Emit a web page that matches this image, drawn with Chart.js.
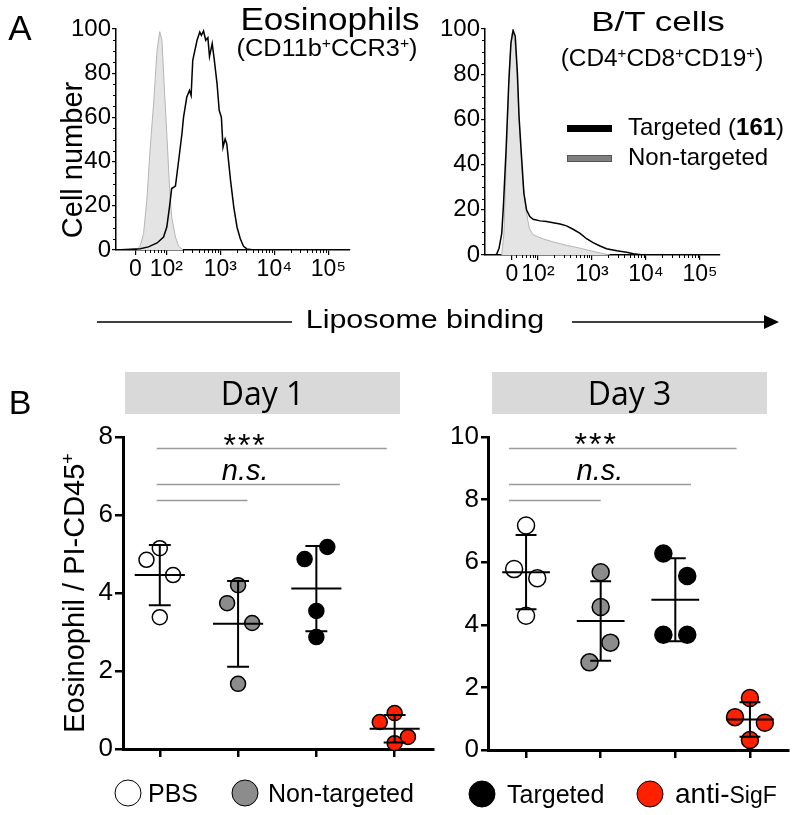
<!DOCTYPE html>
<html>
<head>
<meta charset="utf-8">
<title>Liposome binding</title>
<script src="https://cdn.jsdelivr.net/npm/chart.js@4.4.1/dist/chart.umd.min.js"></script>
<style>
  body { margin: 0; background: #fff; }
  #figura { position: relative; width: 800px; height: 815px; overflow: hidden; font-family: "Liberation Sans", Arial, sans-serif; color: #000; }
  .strato { position: absolute; left: 0; top: 0; width: 800px; height: 815px; }
  .testo { position: absolute; white-space: nowrap; line-height: 1; transform: translate(-50%, -50%); }
  .sup { font-size: 0.62em; position: relative; top: -0.55em; }
  .giorno { position: absolute; top: 372px; height: 42px; width: 275px; background: #d9d9d9; font-family: "Open Sans", sans-serif; font-size: 32px; line-height: 42px; text-align: center; }
  .pallino { position: absolute; width: 25px; height: 25px; border: 1.5px solid #000; border-radius: 50%; transform: translate(-50%, -50%); }
  .voce { position: absolute; font-size: 25px; line-height: 1; transform: translateY(-50%); white-space: nowrap; }
</style>
</head>
<body>
<div id="figura">
  <div class="strato"><canvas id="istoEos"></canvas></div>
  <div class="strato"><canvas id="istoBT"></canvas></div>
  <div class="strato"><canvas id="giorno1"></canvas></div>
  <div class="strato"><canvas id="giorno3"></canvas></div>

  <!-- pannello A -->
  <div class="testo" style="left:20px;top:27px;font-size:35px">A</div>
  <div class="testo" style="left:330px;top:19px;font-size:31px;transform:translate(-50%,-50%) scaleX(1.13)">Eosinophils</div>
  <div class="testo" style="left:327px;top:48px;font-size:23px;transform:translate(-50%,-50%) scaleX(1.1)">(CD11b<span class="sup">+</span>CCR3<span class="sup">+</span>)</div>
  <div class="testo" style="left:658px;top:22px;font-size:28px;transform:translate(-50%,-50%) scaleX(1.25)">B/T cells</div>
  <div class="testo" style="left:662px;top:58px;font-size:23px;transform:translate(-50%,-50%) scaleX(1.06)">(CD4<span class="sup">+</span>CD8<span class="sup">+</span>CD19<span class="sup">+</span>)</div>
  <div class="testo" style="left:72px;top:160px;font-size:29px;transform:translate(-50%,-50%) rotate(-90deg)">Cell number</div>

  <div style="position:absolute;left:567px;top:124.5px;width:45px;height:7px;background:#000"></div>
  <div style="position:absolute;left:567px;top:155px;width:43px;height:5px;background:#808080;border:1px solid #555"></div>
  <div class="voce" style="left:628px;top:127px;font-size:24px">Targeted (<b>161</b>)</div>
  <div class="voce" style="left:628px;top:157px;font-size:24px">Non-targeted</div>

  <svg style="position:absolute;left:0;top:300px" width="800" height="40">
    <line x1="97" y1="22" x2="292" y2="22" stroke="#000" stroke-width="1.6"/>
    <line x1="572" y1="22" x2="768" y2="22" stroke="#000" stroke-width="1.6"/>
    <polygon points="764,15 779,22 764,29" fill="#000"/>
  </svg>
  <div class="testo" style="left:425px;top:319px;font-size:26px;transform:translate(-50%,-50%) scaleX(1.17)">Liposome binding</div>

  <!-- pannello B -->
  <div class="testo" style="left:20px;top:402px;font-size:34px">B</div>
  <div class="giorno" style="left:125px">Day 1</div>
  <div class="giorno" style="left:492px">Day 3</div>
  <div class="testo" style="left:74px;top:593px;font-size:29px;transform:translate(-50%,-50%) rotate(-90deg)">Eosinophil / PI-CD45<span class="sup">+</span></div>

  <div class="pallino" style="left:128px;top:793px;background:#ffffff"></div>
  <div class="voce" style="left:148px;top:793px">PBS</div>
  <div class="pallino" style="left:245px;top:793px;background:#8c8c8c"></div>
  <div class="voce" style="left:268px;top:793px">Non-targeted</div>
  <div class="pallino" style="left:482px;top:794px;background:#000000"></div>
  <div class="voce" style="left:507px;top:794px">Targeted</div>
  <div class="pallino" style="left:650px;top:794px;background:#ff2000"></div>
  <div class="voce" style="left:675px;top:794px"><span style="font-size:28px">anti-</span><span style="font-size:23px">SigF</span></div>
</div>

<script>
// Pannello A: istogrammi, x in decadi dell'asse biesponenziale, y in % del massimo
const eosTargetedX = [1.07, 1.52, 1.67, 1.83, 1.95, 2.01, 2.06, 2.10, 2.17, 2.23, 2.29, 2.32, 2.38, 2.43, 2.46, 2.49, 2.57, 2.62, 2.65, 2.69, 2.73, 2.77, 2.80, 2.85, 2.89, 2.94, 2.98, 3.02, 3.05, 3.09, 3.12, 3.19, 3.25, 3.31, 3.37, 3.43, 3.49, 3.62, 5.4];
const eosTargetedY = [0, 0.6, 1.4, 3.2, 5.9, 10.4, 19.5, 27.8, 28.9, 40.6, 52.6, 60.1, 69.2, 72.2, 69.9, 85.8, 94.9, 98.6, 97.1, 99.1, 94.9, 96.1, 87.5, 93.4, 85.8, 75.2, 63.1, 60.1, 46.5, 50.3, 48.0, 31.4, 19.3, 10.3, 5.1, 1.7, 0.5, 0, 0];
const eosNonTargetedX = [1.46, 1.52, 1.58, 1.64, 1.70, 1.77, 1.83, 1.88, 1.92, 1.96, 2.01, 2.06, 2.10, 2.17, 2.23, 2.31];
const eosNonTargetedY = [0, 2, 7.4, 22.5, 45.2, 67.8, 90.5, 98.8, 95, 75.4, 52.7, 28.5, 15, 5.9, 1.7, 0];

const btTargetedX = [1.02, 1.2, 1.235, 1.28, 1.33, 1.36, 1.41, 1.46, 1.50, 1.54, 1.58, 1.62, 1.65, 1.70, 1.74, 1.79, 1.85, 1.91, 2.04, 2.16, 2.28, 2.41, 2.53, 2.65, 2.78, 2.90, 3.02, 3.15, 3.27, 3.46, 3.64, 3.77, 3.95, 5.37];
const btTargetedY = [0, 0, 0.3, 3, 9.6, 21.4, 46.5, 76, 93.8, 99.4, 96.8, 80.5, 61.3, 42.1, 27.3, 19.9, 17, 15.8, 15.1, 14.8, 14.3, 13.7, 12.9, 11.4, 9.6, 7.2, 5.5, 4, 2.8, 1.9, 1.2, 0.6, 0, 0];
const btNonTargetedX = [1.33, 1.37, 1.42, 1.47, 1.52, 1.54, 1.58, 1.62, 1.67, 1.72, 1.78, 1.84, 1.91, 2.10, 2.28, 2.53, 2.78, 2.96, 3.15, 3.33];
const btNonTargetedY = [0, 9.6, 46.5, 83.5, 98.2, 99, 92.3, 76, 51, 31.8, 19.9, 11.8, 8.9, 7.1, 5.8, 4.3, 3, 1.9, 0.9, 0];

const tickLabelsA = ["0", "10²", "10³", "10⁴", "10⁵"];
const tickEos = [1.43, 2, 3, 4, 5];
const tickBT = [1.52, 2, 3, 4, 5];

// Pannello B: punti per gruppo (PBS, Non-targeted, Targeted, anti-SigF)
const gruppi = ["PBS", "Non-targeted", "Targeted", "anti-SigF"];
const coloriGruppi = ["#ffffff", "#8c8c8c", "#000000", "#ff2000"];
const day1Valori = [[5.15, 4.85, 4.46, 3.38], [4.2, 3.74, 3.23, 1.67], [5.18, 4.87, 3.54, 2.87], [0.92, 0.69, 0.31, 0.15]];
const day1Jitter = [[0, -0.17, 0.17, 0], [0, -0.14, 0.18, 0], [0.14, -0.15, 0, 0], [0, -0.19, 0.17, 0]];
const day3Valori = [[7.17, 5.78, 5.49, 4.29], [5.68, 4.57, 3.43, 2.8], [6.28, 5.56, 3.68, 3.68], [1.66, 1.05, 0.87, 0.32]];
const day3Jitter = [[0, -0.16, 0.15, 0], [0, 0, 0.13, -0.15], [-0.16, 0.16, -0.16, 0.16], [0, -0.2, 0.2, 0]];

// linee di confronto (fine in unita' di gruppo, y in unita' dell'asse) ed etichette
const day1Linee = [{ fine: 2.9, y: 7.72 }, { fine: 2.3, y: 6.79 }, { fine: 1.12, y: 6.38 }];
const day1Testi = [{ testo: "***", x: 1.09, y: 7.51 }, { testo: "n.s.", x: 1.09, y: 6.9 }];
const day3Linee = [{ fine: 2.82, y: 9.66 }, { fine: 2.21, y: 8.51 }, { fine: 1.0, y: 8.0 }];
const day3Testi = [{ testo: "***", x: 0.94, y: 9.41 }, { testo: "n.s.", x: 0.99, y: 8.64 }];

Chart.defaults.font.family = "'Liberation Sans', Arial, sans-serif";
Chart.defaults.color = "#000";

function coppie(xs, ys) {
  return xs.map((x, i) => ({ x: x, y: ys[i] }));
}

// tacche minori disegnate con le scale del grafico
function tacche(valoriX, valoriY, lung) {
  return {
    id: "tacche",
    afterDraw(chart) {
      let ctx = chart.ctx, a = chart.chartArea, sx = chart.scales.x, sy = chart.scales.y;
      ctx.save();
      ctx.strokeStyle = "#000";
      ctx.lineWidth = 1;
      valoriX.forEach(v => {
        let p = Math.round(sx.getPixelForValue(v)) + 0.5;
        ctx.beginPath(); ctx.moveTo(p, a.bottom); ctx.lineTo(p, a.bottom + lung); ctx.stroke();
      });
      valoriY.forEach(v => {
        let p = Math.round(sy.getPixelForValue(v)) + 0.5;
        ctx.beginPath(); ctx.moveTo(a.left, p); ctx.lineTo(a.left - lung, p); ctx.stroke();
      });
      ctx.restore();
    }
  };
}

function istogramma(id, pad, xMin, xMax, tickPos, targeted, nonTargeted) {
  let minoriX = [], minoriY = [];
  for (let d = 1; d <= 4; d++) {
    for (let k = 2; k <= 9; k++) {
      let v = d + Math.log10(k);
      if (v > xMin && v < xMax && v > tickPos[0] + 0.05) minoriX.push(v);
    }
  }
  for (let v = 5; v < 100; v += 5) if (v % 20 !== 0) minoriY.push(v);

  return new Chart(document.getElementById(id).getContext("2d"), {
    type: "scatter",
    data: {
      datasets: [
        {
          data: targeted,
          showLine: true,
          borderColor: "#000",
          borderWidth: 1.5,
          pointRadius: 0,
          fill: false,
          order: 0,
        },
        {
          data: nonTargeted,
          showLine: true,
          borderColor: "#b5b5b5",
          borderWidth: 1,
          backgroundColor: "#e4e4e4",
          pointRadius: 0,
          fill: "origin",
          order: 1,
        },
      ],
    },
    options: {
      responsive: true,
      maintainAspectRatio: false,
      animation: false,
      layout: { padding: pad },
      plugins: { legend: { display: false }, tooltip: { enabled: false } },
      scales: {
        x: {
          type: "linear",
          min: xMin,
          max: xMax,
          afterBuildTicks: s => { s.ticks = tickPos.map(v => ({ value: v })); },
          ticks: { callback: (v, i) => tickLabelsA[i], font: { size: 23 }, padding: 1, maxRotation: 0, autoSkip: false },
          grid: { drawOnChartArea: false, tickLength: 5, color: "#000", lineWidth: 1.2 },
          border: { color: "#000", width: 1.5 },
          afterFit: s => { s.height = 40; s.paddingLeft = 0; s.paddingRight = 0; },
        },
        y: {
          min: 0,
          max: 100,
          ticks: { stepSize: 20, font: { size: 24 }, padding: 1 },
          grid: { drawOnChartArea: false, tickLength: 4, color: "#000", lineWidth: 1.2 },
          border: { color: "#000", width: 1.5 },
          afterFit: s => { s.width = 60; s.paddingTop = 0; s.paddingBottom = 0; },
        },
      },
    },
    plugins: [tacche(minoriX, minoriY, 3)],
  });
}

function media(a) {
  return a.reduce((s, v) => s + v, 0) / a.length;
}

function devStd(a) {
  let m = media(a);
  return Math.sqrt(a.reduce((s, v) => s + (v - m) * (v - m), 0) / (a.length - 1));
}

// media +/- deviazione standard come segmenti separati da null
function barreErrore(valori) {
  let punti = [];
  valori.forEach((gruppo, g) => {
    let m = media(gruppo), s = devStd(gruppo);
    punti.push({ x: g - 0.32, y: m }, { x: g + 0.32, y: m }, { x: g, y: null });
    punti.push({ x: g, y: m + s }, { x: g, y: m - s }, { x: g, y: null });
    punti.push({ x: g - 0.14, y: m + s }, { x: g + 0.14, y: m + s }, { x: g, y: null });
    punti.push({ x: g - 0.14, y: m - s }, { x: g + 0.14, y: m - s }, { x: g, y: null });
  });
  return {
    data: punti,
    showLine: true,
    spanGaps: false,
    borderColor: "#000",
    borderWidth: 2,
    pointRadius: 0,
    clip: false,
    order: 0,
  };
}

function confronti(inizio, linee, testi) {
  return {
    id: "confronti",
    afterDatasetsDraw(chart) {
      let ctx = chart.ctx, sx = chart.scales.x, sy = chart.scales.y;
      ctx.save();
      ctx.strokeStyle = "#9a9a9a";
      ctx.lineWidth = 1.5;
      linee.forEach(l => {
        let y = Math.round(sy.getPixelForValue(l.y)) + 0.5;
        ctx.beginPath();
        ctx.moveTo(sx.getPixelForValue(inizio), y);
        ctx.lineTo(sx.getPixelForValue(l.fine), y);
        ctx.stroke();
      });
      ctx.fillStyle = "#000";
      ctx.textAlign = "center";
      ctx.textBaseline = "alphabetic";
      testi.forEach(t => {
        if (t.testo === "***") {
          ctx.font = "32px 'Liberation Sans', Arial, sans-serif";
          ctx.letterSpacing = "2px";
        } else {
          ctx.font = "italic 29px 'Liberation Sans', Arial, sans-serif";
          ctx.letterSpacing = "0px";
        }
        ctx.fillText(t.testo, sx.getPixelForValue(t.x), sy.getPixelForValue(t.y));
      });
      ctx.restore();
    }
  };
}

function grafico(id, pad, xMin, xMax, yMax, valori, jitter, raggio, tickLen, inizio, linee, testi) {
  let datasets = valori.map((gruppo, g) => ({
    label: gruppi[g],
    data: gruppo.map((v, i) => ({ x: g + jitter[g][i], y: v })),
    backgroundColor: coloriGruppi[g],
    borderColor: "#000",
    borderWidth: 1.5,
    pointRadius: raggio,
    pointHoverRadius: raggio,
    clip: false,
    order: 1,
  }));
  datasets.push(barreErrore(valori));

  return new Chart(document.getElementById(id).getContext("2d"), {
    type: "scatter",
    data: { datasets: datasets },
    options: {
      responsive: true,
      maintainAspectRatio: false,
      animation: false,
      layout: { padding: pad },
      plugins: { legend: { display: false }, tooltip: { enabled: false } },
      scales: {
        x: {
          type: "linear",
          min: xMin,
          max: xMax,
          afterBuildTicks: s => { s.ticks = gruppi.map((_, i) => ({ value: i })); },
          ticks: { display: false },
          grid: { drawOnChartArea: false, tickLength: 8, color: "#000", lineWidth: 2.5 },
          border: { color: "#000", width: 3 },
          afterFit: s => { s.height = 40; s.paddingLeft = 0; s.paddingRight = 0; },
        },
        y: {
          min: 0,
          max: yMax,
          ticks: { stepSize: 2, font: { size: 26 }, padding: 2 },
          grid: { drawOnChartArea: false, tickLength: tickLen, color: "#000", lineWidth: 2.5 },
          border: { color: "#000", width: 3 },
          afterFit: s => { s.width = 60; s.paddingTop = 0; s.paddingBottom = 0; },
        },
      },
    },
    plugins: [confronti(inizio, linee, testi)],
  });
}

istogramma("istoEos", { left: 56, top: 29, right: 450, bottom: 525 }, 1.07, 5.4, tickEos,
  coppie(eosTargetedX, eosTargetedY), coppie(eosNonTargetedX, eosNonTargetedY));
istogramma("istoBT", { left: 425, top: 29, right: 80, bottom: 520 }, 1.02, 5.37, tickBT,
  coppie(btTargetedX, btTargetedY), coppie(btNonTargetedX, btNonTargetedY));

grafico("giorno1", { left: 63, top: 437, right: 367, bottom: 26 }, -0.47, 3.49, 8,
  day1Valori, day1Jitter, 7.5, 8, -0.04, day1Linee, day1Testi);
grafico("giorno3", { left: 428, top: 437, right: 12, bottom: 25 }, -0.51, 3.51, 10,
  day3Valori, day3Jitter, 8.5, 7, -0.23, day3Linee, day3Testi);
</script>
</body>
</html>
